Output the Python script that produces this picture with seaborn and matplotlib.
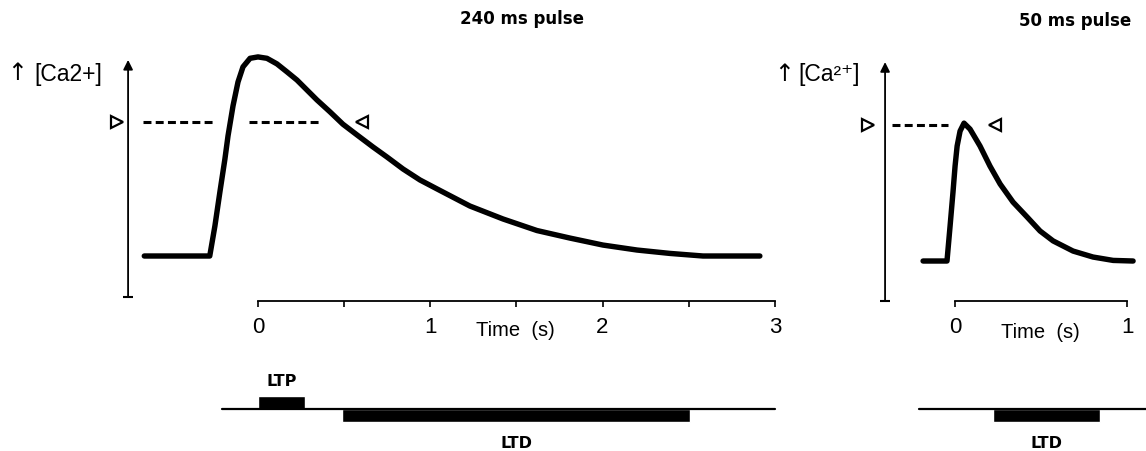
import matplotlib
matplotlib.use("Agg")
import matplotlib.pyplot as plt
import seaborn as sns

# ---------------- data ----------------
# 240 ms pulse: time (s) and relative [Ca2+] (baseline 0, peak 1)
t_long = [-0.66, -0.28, -0.250, -0.221, -0.192, -0.174, -0.145, -0.116, -0.087, -0.046,
          0.0, 0.052, 0.110, 0.168, 0.226, 0.284, 0.342, 0.418, 0.493, 0.575, 0.667,
          0.749, 0.842, 0.940, 1.039, 1.230, 1.422, 1.619, 1.811, 2.002, 2.200, 2.391,
          2.583, 2.913]
ca_long = [0.0, 0.0, 0.151, 0.322, 0.487, 0.603, 0.754, 0.874, 0.950, 0.993,
           1.0, 0.993, 0.965, 0.925, 0.884, 0.834, 0.784, 0.724, 0.662, 0.608, 0.548,
           0.497, 0.437, 0.382, 0.337, 0.251, 0.186, 0.128, 0.090, 0.055, 0.030, 0.013,
           0.0, 0.0]
# 50 ms pulse
t_short = [-0.186, -0.047, -0.029, -0.012, 0.0, 0.012, 0.029, 0.052, 0.087, 0.145,
           0.203, 0.262, 0.337, 0.419, 0.494, 0.570, 0.686, 0.802, 0.919, 1.035]
ca_short = [0.0, 0.0, 0.176, 0.347, 0.477, 0.578, 0.653, 0.693, 0.663, 0.578,
            0.477, 0.387, 0.296, 0.221, 0.151, 0.101, 0.050, 0.020, 0.003, 0.0]

threshold_long = 0.675
threshold_short = 0.683
# dashed threshold segments (time ranges)
dash_long = [(-0.667, -0.244), (-0.052, 0.360)]
dash_short = [(-0.366, -0.041)]
marker_long = (-0.818, 0.604)
marker_short = (-0.506, 0.233)

# plasticity windows: (start, duration)
ltp_long = (0.0, 0.27)
ltd_long = (0.49, 2.02)
ltd_short = (0.22, 0.62)
bar_line_long = (-0.21, 3.0)
bar_line_short = (-0.21, 1.12)

xticks_long = [0, 1, 2, 3]
xminor_long = [0.5, 1.5, 2.5]
xticks_short = [0, 1]

title_long = "240 ms pulse"
title_short = "50 ms pulse"
ylabel_arrow = "↑"
ylabel_long = "[Ca2+]"
ylabel_short = "[Ca²⁺]"
xlabel = "Time  (s)"

# ---------------- style ----------------
sns.set_theme(style="white")
plt.rcParams["font.family"] = ["Liberation Sans", "DejaVu Sans"]
plt.rcParams["text.color"] = "black"
NARROW = ["Liberation Sans Narrow", "Liberation Sans", "DejaVu Sans"]
BOLD = ["DejaVu Sans"]

W, H = 1146, 452
fig = plt.figure(figsize=(W / 100, H / 100), dpi=100)
fig.patch.set_facecolor("white")


def rect(x0, y0, x1, y1):
    return [x0 / W, 1 - y1 / H, (x1 - x0) / W, (y1 - y0) / H]


def ftext(x, y, s, **kw):
    fig.text(x / W, 1 - y / H, s, ha="center", va="center", color="black", **kw)


def panel(ax, t, ca, xlim, ylim, yaxis_x, yaxis_bounds, xt, xminor, thr, dashes, markers):
    ax.set_xlim(*xlim)
    ax.set_ylim(*ylim)
    ax.set_facecolor("none")
    sns.lineplot(x=t, y=ca, ax=ax, color="black", linewidth=3.9, sort=False,
                 solid_joinstyle="round", solid_capstyle="round")
    for a, b in dashes:
        ax.plot([a, b], [thr, thr], color="black", lw=2.2, linestyle=(0, (2.6, 1.4)))
    ax.plot([markers[0]], [thr], marker=">", ms=8, mfc="white", mec="black", mew=1.6,
            linestyle="none", clip_on=False)
    ax.plot([markers[1]], [thr], marker="<", ms=8, mfc="white", mec="black", mew=1.6,
            linestyle="none", clip_on=False)
    # y axis as arrow
    ax.annotate("", xy=(yaxis_x, yaxis_bounds[1]), xytext=(yaxis_x, yaxis_bounds[0]),
                arrowprops=dict(arrowstyle="-|>", lw=1.3, color="black",
                                mutation_scale=14, shrinkA=0, shrinkB=0),
                annotation_clip=False)
    ax.plot([yaxis_x], [yaxis_bounds[0]], marker="_", ms=7, mew=1.5, color="black",
            clip_on=False)
    for s in ["top", "right", "left"]:
        ax.spines[s].set_visible(False)
    ax.spines["bottom"].set_color("black")
    ax.spines["bottom"].set_linewidth(1.3)
    ax.spines["bottom"].set_bounds(xt[0], xt[-1])
    ax.set_xticks(xt)
    ax.set_xticklabels([str(v) for v in xt])
    if xminor:
        ax.set_xticks(xminor, minor=True)
    ax.set_yticks([])
    ax.tick_params(axis="x", which="both", bottom=True, direction="out", length=4,
                   width=1.2, color="black", pad=7, labelsize=16, labelcolor="black")
    for lab in ax.get_xticklabels():
        lab.set_fontfamily(NARROW)
    ax.set_xlabel("")
    ax.set_ylabel("")


# ---- left panel ----
axL = fig.add_axes(rect(100, 40, 800, 302))
panel(axL, t_long, ca_long, (-0.917, 3.146), (-0.226, 1.090), -0.754, (-0.206, 0.985),
      xticks_long, xminor_long, threshold_long, dash_long, marker_long)

# ---- right panel ----
axR = fig.add_axes(rect(840, 40, 1146, 302))
panel(axR, t_short, ca_short, (-0.669, 1.110), (-0.201, 1.116), -0.407, (-0.201, 1.0),
      xticks_short, None, threshold_short, dash_short, marker_short)


# ---- plasticity bars ----
def bars(ax, xlim, line, ltp, ltd):
    ax.set_xlim(*xlim)
    ax.set_ylim(-3, 3)
    ax.axis("off")
    ax.plot(list(line), [0, 0], color="black", lw=1.6)
    if ltp is not None:
        ax.bar([ltp[0]], [1], width=[ltp[1]], align="edge", color="black")
        ax.text(ltp[0] + ltp[1] / 2, 2.15, "LTP", ha="center", va="center",
                fontsize=11.5, weight="bold", family=BOLD, color="black")
    ax.bar([ltd[0]], [-1], width=[ltd[1]], align="edge", color="black")
    ax.text(ltd[0] + ltd[1] / 2, -2.5, "LTD", ha="center", va="center",
            fontsize=11.5, weight="bold", family=BOLD, color="black")


axBL = fig.add_axes(rect(100, 370, 800, 450))
bars(axBL, (-0.917, 3.146), bar_line_long, ltp_long, ltd_long)
axBR = fig.add_axes(rect(840, 370, 1146, 450))
bars(axBR, (-0.669, 1.110), bar_line_short, None, ltd_short)

# ---- texts ----
ftext(522, 19, title_long, fontsize=12, weight="bold", family=BOLD)
ftext(1075, 21, title_short, fontsize=12, weight="bold", family=BOLD)
ftext(17, 73, ylabel_arrow, fontsize=17, family=["DejaVu Sans"])
ftext(68, 75, ylabel_long, fontsize=16.5)
ftext(784, 74, ylabel_arrow, fontsize=17, family=["DejaVu Sans"])
ftext(829, 75, ylabel_short, fontsize=16.5)
ftext(515, 331, xlabel, fontsize=14.5, family=NARROW)
ftext(1040, 333, xlabel, fontsize=14.5, family=NARROW)

fig.savefig("out.png", dpi=100, facecolor="white")
